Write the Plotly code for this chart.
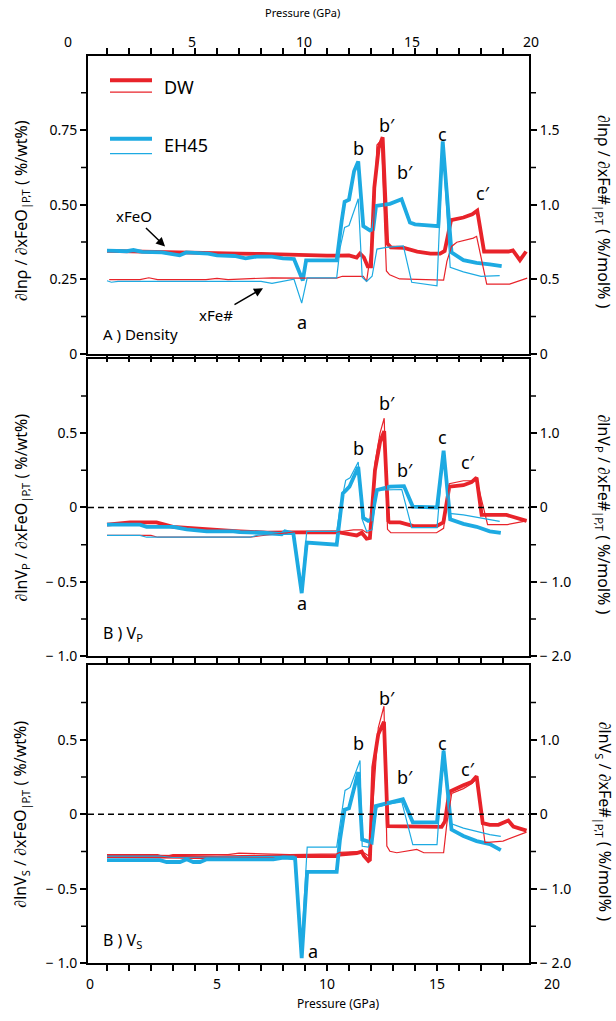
import plotly.graph_objects as go

W, H = 616, 1021

# ---------------- data (pressure in GPa) ----------------
# Panel A: density. xFeO curves (left axis, %/wt%), xFe# curves (right axis, %/mol%)
rho_dw_feo_p = [0, 1, 2, 3, 4, 5, 6, 7, 8, 9, 10, 10.5, 11.0, 11.35, 11.5, 11.68, 11.85, 12.0, 12.15, 12.35,
                12.53, 12.74, 12.9, 13.5, 14.1, 14.7, 15.14, 15.35, 15.64, 16.2, 16.6, 16.83, 17.14, 17.5,
                18.0, 18.25, 18.45, 18.77, 19.05]
rho_dw_feo = [0.345, 0.343, 0.342, 0.341, 0.340, 0.338, 0.336, 0.335, 0.332, 0.330, 0.329, 0.329, 0.330,
              0.323, 0.336, 0.323, 0.293, 0.293, 0.557, 0.69, 0.726, 0.37, 0.357, 0.355, 0.343, 0.336,
              0.336, 0.345, 0.448, 0.457, 0.468, 0.48, 0.343, 0.343, 0.343, 0.343, 0.347, 0.314, 0.343]

rho_eh_feo_p = [0, 0.5, 0.9, 1.2, 1.6, 2.5, 3.3, 3.6, 4.0, 4.6, 5.0, 5.8, 6.3, 6.8, 7.5, 8.0, 8.5, 8.9, 9.05,
                10.44, 10.67, 10.8, 11.0, 11.23, 11.42, 11.65, 11.95, 12.1, 12.23, 12.86, 13.39, 13.77, 14.0,
                15.06, 15.26, 15.45, 15.66, 16.2, 16.8, 17.4, 17.94]
rho_eh_feo = [0.346, 0.345, 0.344, 0.348, 0.342, 0.340, 0.330, 0.340, 0.339, 0.336, 0.330, 0.328, 0.320,
              0.326, 0.326, 0.320, 0.318, 0.246, 0.313, 0.313, 0.447, 0.51, 0.517, 0.612, 0.645, 0.428,
              0.414, 0.418, 0.496, 0.503, 0.518, 0.44, 0.434, 0.428, 0.712, 0.52, 0.34, 0.314, 0.305,
              0.30, 0.294]

rho_dw_fe_p = [0.1, 1.5, 1.9, 2.3, 4.5, 5.0, 5.5, 7.0, 7.5, 9.0, 10.44, 10.7, 11.3, 11.65, 11.8, 12.1, 12.27,
               12.47, 12.7, 12.85, 13.3, 15.3, 15.45, 15.66, 15.9, 16.65, 16.8, 17.26, 18.3, 19.1]
rho_dw_fe = [0.498, 0.498, 0.51, 0.498, 0.498, 0.506, 0.498, 0.504, 0.51, 0.508, 0.508, 0.52, 0.52, 0.52,
             0.486, 0.8, 1.4, 1.434, 0.556, 0.53, 0.502, 0.494, 0.62, 0.72, 0.748, 0.776, 0.788, 0.468,
             0.468, 0.508]

rho_eh_fe_p = [0, 0.2, 0.5, 7.0, 7.5, 8.5, 8.85, 9.1, 10.44, 10.6, 10.8, 11.0, 11.42, 11.6, 11.8, 12.05,
               12.27, 12.7, 13.47, 13.85, 15.0, 15.26, 15.6, 16.2, 17.0, 17.85]
rho_eh_fe = [0.49, 0.48, 0.486, 0.486, 0.472, 0.50, 0.34, 0.51, 0.51, 0.714, 0.848, 0.86, 1.04, 0.514,
             0.486, 0.52, 0.702, 0.714, 0.724, 0.48, 0.456, 1.40, 0.58, 0.55, 0.52, 0.524]

# Panel B: Vp
vp_dw_feo_p = [0, 1.05, 2.25, 3.0, 3.5, 4.5, 5.5, 6.05, 7.3, 8.3, 10.5, 11.35, 11.58, 11.8, 11.95, 12.18,
               12.41, 12.6, 12.79, 12.86, 13.32, 13.93, 14.98, 15.29, 15.56, 16.2, 16.57, 16.8, 17.03,
               18.16, 19.07]
vp_dw_feo = [-0.115, -0.10, -0.10, -0.13, -0.135, -0.148, -0.155, -0.16, -0.17, -0.168, -0.166, -0.188,
             -0.17, -0.21, -0.205, 0.25, 0.44, 0.514, -0.09, -0.10, -0.10, -0.125, -0.125, -0.10, 0.14,
             0.15, 0.17, 0.2, -0.05, -0.05, -0.09]

vp_eh_feo_p = [0, 1.5, 1.8, 3.0, 3.62, 4.53, 5.74, 6.05, 7.1, 7.94, 8.09, 8.47, 8.85, 9.08, 10.44, 10.72,
               10.87, 11.02, 11.42, 11.65, 11.87, 12.02, 12.27, 12.86, 13.5, 13.9, 15.0, 15.3, 15.6, 16.2,
               16.8, 17.4, 17.9]
vp_eh_feo = [-0.115, -0.115, -0.13, -0.13, -0.148, -0.16, -0.16, -0.166, -0.17, -0.18, -0.16, -0.175,
             -0.576, -0.236, -0.25, 0.095, 0.117, 0.14, 0.272, -0.07, -0.09, -0.08, 0.117, 0.14, 0.144,
             0.006, 0.0, 0.382, -0.08, -0.11, -0.13, -0.16, -0.17]

vp_dw_fe_p = [0, 2.0, 2.3, 6.5, 7.0, 8.5, 10.5, 11.2, 11.6, 11.8, 11.95, 12.18, 12.41, 12.6, 12.75, 12.9,
              14.98, 15.3, 15.56, 16.2, 16.6, 16.8, 17.3, 18.2, 19.07]
vp_dw_fe = [-0.376, -0.376, -0.40, -0.40, -0.38, -0.33, -0.33, -0.30, -0.30, -0.34, -0.34, 0.60, 1.00,
            1.20, -0.294, -0.34, -0.34, -0.28, 0.32, 0.36, 0.36, 0.38, -0.23, -0.23, -0.18]

vp_eh_fe_p = [0, 1.5, 1.8, 6.5, 6.9, 8.5, 8.85, 9.08, 10.44, 10.6, 10.85, 11.05, 11.42, 11.6, 11.8, 12.05,
              12.27, 12.86, 13.4, 13.85, 15.0, 15.3, 15.56, 16.2, 17.1, 17.85]
vp_eh_fe = [-0.376, -0.376, -0.40, -0.40, -0.37, -0.36, -1.08, -0.32, -0.32, 0.0, 0.366, 0.40, 0.612,
            -0.16, -0.32, -0.30, 0.234, 0.234, 0.242, -0.272, -0.272, 0.76, -0.08, -0.10, -0.146, -0.186]

# Panel C: Vs
vs_dw_feo_p = [0, 2.0, 3.5, 5.0, 6.5, 8.3, 10.44, 10.59, 11.35, 11.58, 11.68, 11.88, 11.95, 12.1, 12.33,
               12.59, 12.76, 15.21, 15.36, 15.56, 16.2, 16.57, 16.8, 17.08, 17.4, 17.79, 18.24, 18.47, 19.07]
vs_dw_feo = [-0.28, -0.28, -0.285, -0.29, -0.285, -0.28, -0.28, -0.27, -0.26, -0.25, -0.28, -0.313,
             -0.305, 0.316, 0.536, 0.62, -0.08, -0.085, -0.048, 0.15, 0.194, 0.216, 0.254, -0.06, -0.071,
             -0.071, -0.042, -0.082, -0.11]

vs_eh_feo_p = [0, 2.41, 2.71, 3.32, 3.62, 3.92, 4.23, 4.53, 7.56, 8.02, 8.55, 8.85, 9.1, 10.44, 10.59, 10.8,
               11.0, 11.42, 11.6, 11.88, 12.03, 12.22, 12.86, 13.45, 13.9, 15.0, 15.3, 15.66, 16.2, 16.8,
               17.4, 17.9]
vs_eh_feo = [-0.307, -0.307, -0.32, -0.32, -0.302, -0.32, -0.32, -0.302, -0.302, -0.29, -0.295, -0.965,
             -0.386, -0.386, -0.17, 0.03, 0.04, 0.283, -0.17, -0.18, -0.19, 0.055, 0.077, 0.1, -0.054,
             -0.054, 0.426, -0.103, -0.146, -0.18, -0.2, -0.24]

vs_dw_fe_p = [0, 2.3, 2.6, 3.0, 5.5, 6.0, 8.3, 10.44, 10.6, 11.35, 11.7, 11.9, 12.1, 12.33, 12.59, 12.72,
              12.86, 13.17, 14.08, 14.4, 15.3, 15.45, 15.67, 16.2, 16.57, 16.8, 17.18, 18.0, 19.07]
vs_dw_fe = [-0.54, -0.54, -0.57, -0.54, -0.54, -0.52, -0.54, -0.53, -0.51, -0.50, -0.52, -0.56, 0.20,
            1.16, 1.448, -0.426, -0.496, -0.516, -0.472, -0.516, -0.516, -0.12, 0.28, 0.344, 0.41, 0.476,
            -0.38, -0.36, -0.24]

vs_eh_fe_p = [0, 2.41, 3.0, 7.56, 8.5, 8.85, 9.1, 10.44, 10.67, 10.82, 11.05, 11.5, 11.6, 11.88, 12.1,
              12.27, 12.86, 13.4, 13.9, 15.0, 15.3, 15.6, 16.2, 17.4, 17.9]
vs_eh_fe = [-0.56, -0.56, -0.58, -0.57, -0.56, -1.74, -0.44, -0.44, 0.0, 0.32, 0.36, 0.72, -0.43, -0.44,
            -0.24, 0.10, 0.14, 0.166, -0.408, -0.408, 0.86, -0.12, -0.186, -0.274, -0.296]

top_tick_text = ["0", "5", "10", "15", "20"]
bottom_tick_text = ["0", "5", "10", "15", "20"]

left1_vals = [0, 0.25, 0.5, 0.75]
left1_text = ["0", "0.25", "0.50", "0.75"]
left1_minor = [0.125, 0.375, 0.625, 0.875]
right1_vals = [0, 0.5, 1.0, 1.5]
right1_text = ["0", "0.5", "1.0", "1.5"]
right1_minor = [0.25, 0.75, 1.25, 1.75]
left2_vals = [-1, -0.5, 0, 0.5]
left2_text = ["\u2212 1.0", "\u2212 0.5", "0", "0.5"]
left2_minor = [-0.75, -0.25, 0.25, 0.75]
right2_vals = [-2, -1, 0, 1]
right2_text = ["\u2212 2.0", "\u2212 1.0", "0", "1.0"]
right2_minor = [-1.5, -0.5, 0.5, 1.5]

# ---------------- styling / layout helpers ----------------
RED = "#E8232A"
BLUE = "#1DAAE2"
FONT = "Noto Sans"
THICK, THIN = 3.8, 1.2


def py(p):
    return 1 - p / H


def pxx(p):
    return p / W


X_DOM = [88 / W, 529 / W]
X_RNG = [-19 / 22, 422 / 22]
P1 = [py(357), py(56)]
P2 = [py(662), py(362)]
P3 = [py(972), py(671)]

fig = go.Figure()


def add_panel(xa, yl, yr, dw_feo_p, dw_feo, eh_feo_p, eh_feo, dw_fe_p, dw_fe, eh_fe_p, eh_fe):
    fig.add_trace(go.Scatter(x=dw_feo_p, y=dw_feo, xaxis=xa, yaxis=yl, mode="lines",
                             line=dict(color=RED, width=THICK), showlegend=False))
    fig.add_trace(go.Scatter(x=eh_feo_p, y=eh_feo, xaxis=xa, yaxis=yl, mode="lines",
                             line=dict(color=BLUE, width=THICK), showlegend=False))
    fig.add_trace(go.Scatter(x=dw_fe_p, y=dw_fe, xaxis=xa, yaxis=yr, mode="lines",
                             line=dict(color=RED, width=THIN), showlegend=False))
    fig.add_trace(go.Scatter(x=eh_fe_p, y=eh_fe, xaxis=xa, yaxis=yr, mode="lines",
                             line=dict(color=BLUE, width=THIN), showlegend=False))


add_panel("x", "y", "y2", rho_dw_feo_p, rho_dw_feo, rho_eh_feo_p, rho_eh_feo,
          rho_dw_fe_p, rho_dw_fe, rho_eh_fe_p, rho_eh_fe)
add_panel("x2", "y3", "y4", vp_dw_feo_p, vp_dw_feo, vp_eh_feo_p, vp_eh_feo,
          vp_dw_fe_p, vp_dw_fe, vp_eh_fe_p, vp_eh_fe)
add_panel("x3", "y5", "y6", vs_dw_feo_p, vs_dw_feo, vs_eh_feo_p, vs_eh_feo,
          vs_dw_fe_p, vs_dw_fe, vs_eh_fe_p, vs_eh_fe)

# dummy traces so the label-only pressure axes are drawn
fig.add_trace(go.Scatter(x=[None], y=[None], xaxis="x4", yaxis="y7", showlegend=False, hoverinfo="skip"))
fig.add_trace(go.Scatter(x=[None], y=[None], xaxis="x5", yaxis="y7", showlegend=False, hoverinfo="skip"))

tickfont = dict(family=FONT, size=14, color="black")

xcommon = dict(range=X_RNG, domain=X_DOM, showgrid=False, zeroline=False, showline=True,
               linecolor="black", linewidth=2, ticks="outside", ticklen=6, tickwidth=1.5,
               tickcolor="black", tickvals=list(range(0, 19)), showticklabels=False)
ycommon = dict(showgrid=False, zeroline=False, showline=True, linecolor="black", linewidth=2,
               ticks="outside", ticklen=6, tickwidth=1.5, tickcolor="black", tickfont=tickfont)

fig.update_layout(
    width=W, height=H, margin=dict(l=0, r=0, t=0, b=0),
    paper_bgcolor="white", plot_bgcolor="rgba(0,0,0,0)", showlegend=False,
    font=dict(family=FONT, color="black"),
    xaxis=dict(xcommon, anchor="y", mirror="ticks"),
    xaxis2=dict(xcommon, anchor="y3", mirror=True),
    xaxis3=dict(xcommon, anchor="y5", mirror=True),
    yaxis=dict(ycommon, domain=P1, range=[0, 1], anchor="x", tickvals=left1_vals, ticktext=left1_text),
    yaxis2=dict(ycommon, range=[0, 2], anchor="x", overlaying="y", side="right",
                tickvals=right1_vals, ticktext=right1_text),
    yaxis3=dict(ycommon, domain=P2, range=[-1, 1], anchor="x2", tickvals=left2_vals, ticktext=left2_text),
    yaxis4=dict(ycommon, range=[-2, 2], anchor="x2", overlaying="y3", side="right",
                tickvals=right2_vals, ticktext=right2_text),
    yaxis5=dict(ycommon, domain=P3, range=[-1, 1], anchor="x3", tickvals=left2_vals, ticktext=left2_text),
    yaxis6=dict(ycommon, range=[-2, 2], anchor="x3", overlaying="y5", side="right",
                tickvals=right2_vals, ticktext=right2_text),
    xaxis4=dict(domain=[0, 1], range=[0, W], anchor="free", position=py(50), side="top",
                showline=False, showgrid=False, zeroline=False, ticks="",
                tickvals=[68, 192, 304, 412, 531], ticktext=top_tick_text, tickfont=tickfont),
    xaxis5=dict(domain=[0, 1], range=[0, W], anchor="free", position=py(983), side="bottom",
                showline=False, showgrid=False, zeroline=False, ticks="",
                tickvals=[90, 217, 327, 437, 552], ticktext=bottom_tick_text, tickfont=tickfont),
    yaxis7=dict(domain=[0, 1], range=[0, 1], anchor="free", position=0, visible=False),
)

shapes = []
# zero lines
for yref in ("y3", "y5"):
    shapes.append(dict(type="line", xref="paper", yref=yref, x0=X_DOM[0], x1=X_DOM[1], y0=0, y1=0,
                       line=dict(color="black", width=1.5, dash="6px,4px")))
# intermediate (unlabelled) y ticks
for yref, vals, side in [("y", left1_minor, "l"), ("y2", right1_minor, "r"),
                         ("y3", left2_minor, "l"), ("y4", right2_minor, "r"),
                         ("y5", left2_minor, "l"), ("y6", right2_minor, "r")]:
    x0, x1 = ((88 - 7) / W, 88 / W) if side == "l" else (529 / W, (529 + 7) / W)
    for v in vals:
        shapes.append(dict(type="line", xref="paper", yref=yref, x0=x0, x1=x1, y0=v, y1=v,
                           line=dict(color="black", width=1.5)))
# legend samples
for (y_px, col, w) in [(81, RED, 4), (93, RED, 1.2), (140, BLUE, 4), (155, BLUE, 1.2)]:
    shapes.append(dict(type="line", xref="paper", yref="paper", x0=pxx(110), x1=pxx(152),
                       y0=py(y_px), y1=py(y_px), line=dict(color=col, width=w)))
fig.update_layout(shapes=shapes)

ann = []


def txt(text, x, y, size=14, xref="paper", yref="paper", xanchor="center", angle=0):
    ann.append(dict(text=text, x=x, y=y, xref=xref, yref=yref, showarrow=False, xanchor=xanchor,
                    yanchor="middle", textangle=angle, font=dict(family=FONT, size=size, color="black")))


# legend labels
txt("DW", pxx(162), py(88), size=18, xanchor="left")
txt("EH45", pxx(162), py(146), size=18, xanchor="left")

# axis titles
txt("Pressure (GPa)", pxx(302), py(13), size=11)
txt("Pressure (GPa)", pxx(338), py(1012), size=12)
txt("\u2202ln\u03c1 / \u2202xFeO<sub>|P,T</sub> ( %/wt%)", pxx(21), py(213), size=16, angle=-90)
txt("\u2202ln\u03c1 / \u2202xFe#<sub>|P,T</sub> ( %/mol% )", pxx(604), py(213), size=16, angle=90)
txt("\u2202lnV<sub>P</sub> / \u2202xFeO<sub>|P,T</sub> ( %/wt%)", pxx(21), py(512), size=16, angle=-90)
txt("\u2202lnV<sub>P</sub> / \u2202xFe#<sub>|P,T</sub> ( %/mol% )", pxx(604), py(519), size=16, angle=90)
txt("\u2202lnV<sub>S</sub> / \u2202xFeO<sub>|P,T</sub> ( %/wt%)", pxx(21), py(822), size=16, angle=-90)
txt("\u2202lnV<sub>S</sub> / \u2202xFe#<sub>|P,T</sub> ( %/mol% )", pxx(604), py(829), size=16, angle=90)

# panel labels
txt("A ) Density", pxx(101), py(337), size=15, xanchor="left")
txt("B ) V<sub>P</sub>", pxx(101), py(639), size=16, xanchor="left")
txt("B ) V<sub>S</sub>", pxx(101), py(949), size=16, xanchor="left")

# feature letters
letters = ["a", "b", "b\u2032", "b\u2032", "c", "c\u2032"]
pos1 = [(8.86, 0.107), (11.41, 0.69), (12.73, 0.767), (13.55, 0.61), (15.27, 0.737), (17.09, 0.54)]
pos2 = [(8.86, -0.642), (11.41, 0.397), (12.73, 0.702), (13.55, 0.252), (15.27, 0.477), (16.41, 0.305)]
pos3 = [(9.36, -0.92), (11.41, 0.477), (12.73, 0.781), (13.55, 0.252), (15.27, 0.477), (16.41, 0.305)]
for (pos, xr, yr) in [(pos1, "x", "y"), (pos2, "x2", "y3"), (pos3, "x3", "y5")]:
    for t, (xv, yv) in zip(letters, pos):
        txt(t, xv, yv, size=18, xref=xr, yref=yr)

# arrows for xFeO / xFe#
ann.append(dict(text="xFeO", x=2.64, y=0.36, xref="x", yref="y", ax=-31, ay=-30, showarrow=True,
                arrowhead=2, arrowsize=1.2, arrowwidth=1.5, arrowcolor="black",
                font=dict(family=FONT, size=15, color="black")))
ann.append(dict(text="xFe#", x=7.09, y=0.22, xref="x", yref="y", ax=-47, ay=27, showarrow=True,
                arrowhead=2, arrowsize=1.2, arrowwidth=1.5, arrowcolor="black",
                font=dict(family=FONT, size=15, color="black")))

fig.update_layout(annotations=ann)

fig.write_html("out.html")
